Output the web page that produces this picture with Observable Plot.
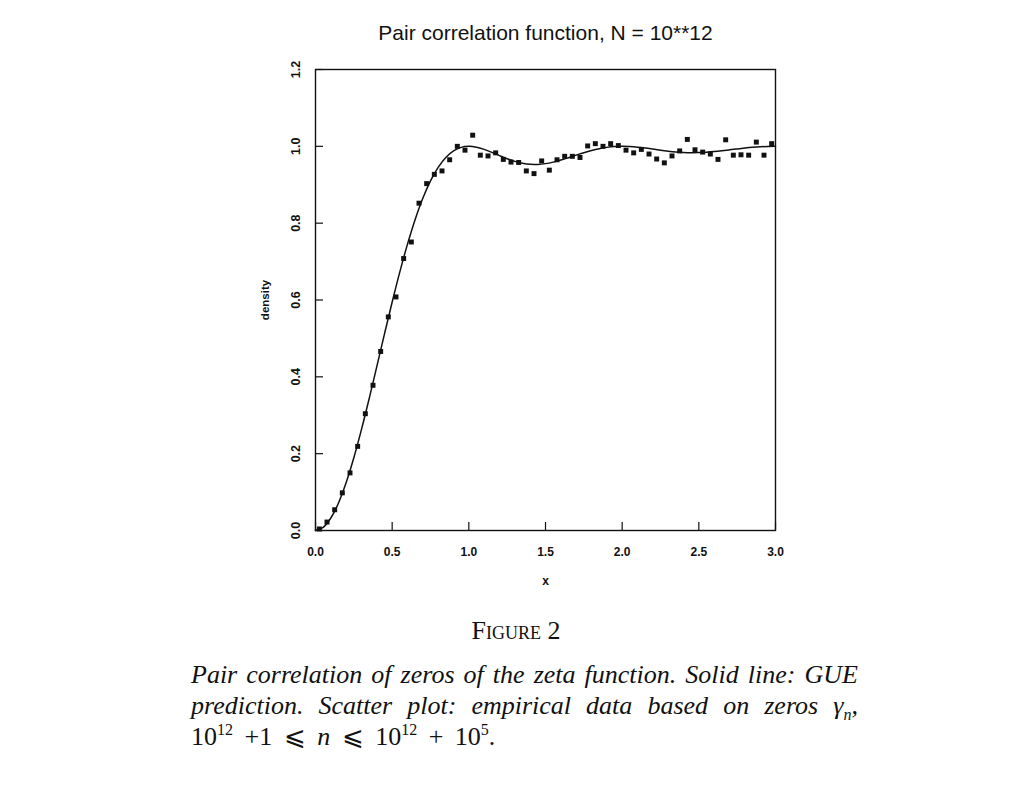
<!DOCTYPE html>
<html><head><meta charset="utf-8">
<script src="https://cdn.jsdelivr.net/npm/d3@7"></script>
<script src="https://cdn.jsdelivr.net/npm/@observablehq/plot@0.6"></script>
<style>
body{margin:0;background:#fff;width:1024px;height:786px;position:relative;overflow:hidden}
#chart{position:absolute;left:0;top:0}
.cap{position:absolute;font-family:"Liberation Serif","Times New Roman",serif;color:#111;font-size:26px;line-height:31px;white-space:nowrap}
.j{text-align:justify;text-align-last:justify;font-style:italic;white-space:normal}
.s{font-size:16px;line-height:0}
</style></head><body>
<div id="chart"></div>
<div class="cap" style="left:416px;top:616px;width:200px;text-align:center;font-variant:small-caps;line-height:29px">Figure 2</div>
<div class="cap" style="left:191px;top:659px;width:667px">
  <div class="j">Pair correlation of zeros of the zeta function. Solid line: GUE</div>
  <div class="j">prediction. Scatter plot: empirical data based on zeros γ<sub class="s"><i>n</i></sub>,</div>
  <div style="word-spacing:5px">10<sup class="s">12</sup> +1 ⩽ <i>n</i> ⩽ 10<sup class="s">12</sup> + 10<sup class="s">5</sup>.</div>
</div>
<script>
const title = "Pair correlation function, N = 10**12";
const xLabel = "x";
const yLabel = "density";
const xTicks = [0, 0.5, 1.0, 1.5, 2.0, 2.5, 3.0];
const yTicks = [0, 0.2, 0.4, 0.6, 0.8, 1.0, 1.2];

// GUE prediction (solid line)
const curveX = [0,0.05,0.1,0.15,0.2,0.25,0.3,0.35,0.4,0.45,0.5,0.55,0.6,0.65,0.7,0.75,0.8,0.85,0.9,0.95,
  1.0,1.05,1.1,1.15,1.2,1.25,1.3,1.35,1.4,1.45,1.5,1.55,1.6,1.65,1.7,1.75,1.8,1.85,1.9,1.95,
  2.0,2.05,2.1,2.15,2.2,2.25,2.3,2.35,2.4,2.45,2.5,2.55,2.6,2.65,2.7,2.75,2.8,2.85,2.9,2.95,3.0];
const curveY = [0,0.0082,0.0325,0.0717,0.1248,0.1894,0.2632,0.3434,0.4271,0.5119,0.5947,0.6733,0.7454,0.8096,0.8647,0.9099,0.9453,0.9711,0.9881,0.9973,
  1.0,0.9978,0.9920,0.9842,0.9757,0.9676,0.9608,0.9559,0.9532,0.9530,0.9550,0.9589,0.9642,0.9705,0.9771,0.9835,0.9892,0.9939,0.9973,0.9993,
  1.0,0.9994,0.9978,0.9955,0.9928,0.9900,0.9875,0.9854,0.9841,0.9835,0.9838,0.9848,0.9864,0.9885,0.9909,0.9933,0.9955,0.9974,0.9988,0.9997,1.0];

// empirical data (scatter)
const dataX = [0.025,0.075,0.125,0.175,0.225,0.275,0.325,0.375,0.425,0.475,0.525,0.575,0.625,0.675,0.725,0.775,0.825,0.875,0.925,0.975,
  1.025,1.075,1.125,1.175,1.225,1.275,1.325,1.375,1.425,1.475,1.525,1.575,1.625,1.675,1.725,1.775,1.825,1.875,1.925,1.975,
  2.025,2.075,2.125,2.175,2.225,2.275,2.325,2.375,2.425,2.475,2.525,2.575,2.625,2.675,2.725,2.775,2.825,2.875,2.925,2.975];
const dataY = [0.004,0.022,0.054,0.098,0.150,0.219,0.304,0.378,0.466,0.556,0.608,0.708,0.751,0.852,0.903,0.927,0.936,0.965,1.000,0.990,
  1.029,0.977,0.975,0.983,0.966,0.959,0.958,0.936,0.929,0.962,0.938,0.965,0.974,0.974,0.971,1.001,1.007,1.000,1.007,1.002,
  0.990,0.983,0.992,0.980,0.967,0.957,0.975,0.988,1.018,0.991,0.985,0.980,0.966,1.017,0.977,0.978,0.977,1.011,0.977,1.007];

const curve = curveX.map((x, i) => ({x, y: curveY[i]}));
const points = dataX.map((x, i) => ({x, y: dataY[i]}));

const W = 1024, H = 600, mL = 315, mR = 249, mT = 69, mB = 70;
const innerW = W - mL - mR, innerH = H - mT - mB, tick = 8;
const ink = "#111";

const chart = Plot.plot({
  width: W, height: H,
  marginLeft: mL, marginRight: mR, marginTop: mT, marginBottom: mB,
  x: {domain: [0, 3], axis: null},
  y: {domain: [0, 1.2], axis: null},
  style: {fontFamily: "'Liberation Sans', Arial, sans-serif", color: ink, background: "#fff", overflow: "visible"},
  marks: [
    Plot.ruleX(xTicks, {x: d => d, insetTop: innerH - tick, stroke: ink, strokeWidth: 1.2}),
    Plot.ruleY(yTicks, {y: d => d, insetRight: innerW - tick, stroke: ink, strokeWidth: 1.2}),
    Plot.frame({stroke: ink, strokeWidth: 1.4}),
    Plot.line(curve, {x: "x", y: "y", stroke: ink, strokeWidth: 1.5, curve: "catmull-rom"}),
    Plot.dot(points, {x: "x", y: "y", symbol: "square", r: 2.8, fill: ink, stroke: "none"}),
    Plot.text(xTicks, {x: d => d, text: d => d.toFixed(1), frameAnchor: "bottom", lineAnchor: "middle", textAnchor: "middle", dy: 22, fontSize: 12, fontWeight: "bold", fill: ink}),
    Plot.text(yTicks, {y: d => d, text: d => d.toFixed(1), frameAnchor: "left", lineAnchor: "middle", textAnchor: "middle", dx: -20, rotate: -90, fontSize: 12.5, fontWeight: "bold", fill: ink}),
    Plot.text([xLabel], {frameAnchor: "bottom", lineAnchor: "middle", dy: 51, fontSize: 12, fontWeight: "bold", fill: ink}),
    Plot.text([yLabel], {frameAnchor: "left", lineAnchor: "middle", textAnchor: "middle", dx: -50, rotate: -90, fontSize: 11.5, fontWeight: "bold", fill: ink}),
    Plot.text([title], {frameAnchor: "top", lineAnchor: "middle", dy: -36.5, fontSize: 21, fill: ink})
  ]
});
document.getElementById("chart").appendChild(chart);
</script>
</body></html>
